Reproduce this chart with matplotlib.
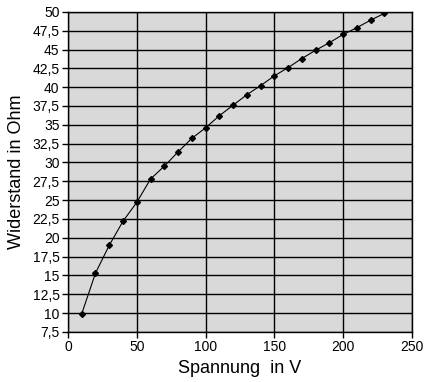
import matplotlib
matplotlib.use("Agg")
import matplotlib.pyplot as plt
from matplotlib.ticker import FuncFormatter, MultipleLocator

plt.rcParams['font.family'] = ['Liberation Sans', 'DejaVu Sans']

spannung = [10, 20, 30, 40, 50, 60, 70, 80, 90, 100, 110, 120,
            130, 140, 150, 160, 170, 180, 190, 200, 210, 220, 230]
widerstand = [9.9, 15.3, 19.0, 22.2, 24.7, 27.8, 29.5, 31.4, 33.2, 34.6, 36.2, 37.6,
              39.0, 40.2, 41.5, 42.6, 43.8, 44.9, 45.9, 47.0, 47.9, 48.9, 49.8]

fig = plt.figure(figsize=(4.3, 3.82), dpi=100)
ax = fig.add_axes([0.158, 0.131, 0.8, 0.838])
ax.set_facecolor('#d9d9d9')

ax.plot(spannung, widerstand, color='black', lw=0.8, marker='D', ms=3,
        markerfacecolor='black', markeredgecolor='black', zorder=3)

ax.set_xlim(0, 250)
ax.set_ylim(7.5, 50)
ax.xaxis.set_major_locator(MultipleLocator(50))
ax.yaxis.set_major_locator(MultipleLocator(2.5))
ax.yaxis.set_major_formatter(FuncFormatter(lambda v, p: f"{v:g}".replace('.', ',')))

ax.grid(True, color='black', lw=1)
ax.set_axisbelow(True)
for s in ax.spines.values():
    s.set_color('black')
    s.set_linewidth(1)

ax.tick_params(direction='out', length=4, width=1, labelsize=10, pad=2)
ax.set_xlabel('Spannung  in V', fontsize=13, labelpad=4)
ax.set_ylabel('Widerstand in Ohm', fontsize=13, labelpad=5)

fig.savefig('out.png', dpi=100)
